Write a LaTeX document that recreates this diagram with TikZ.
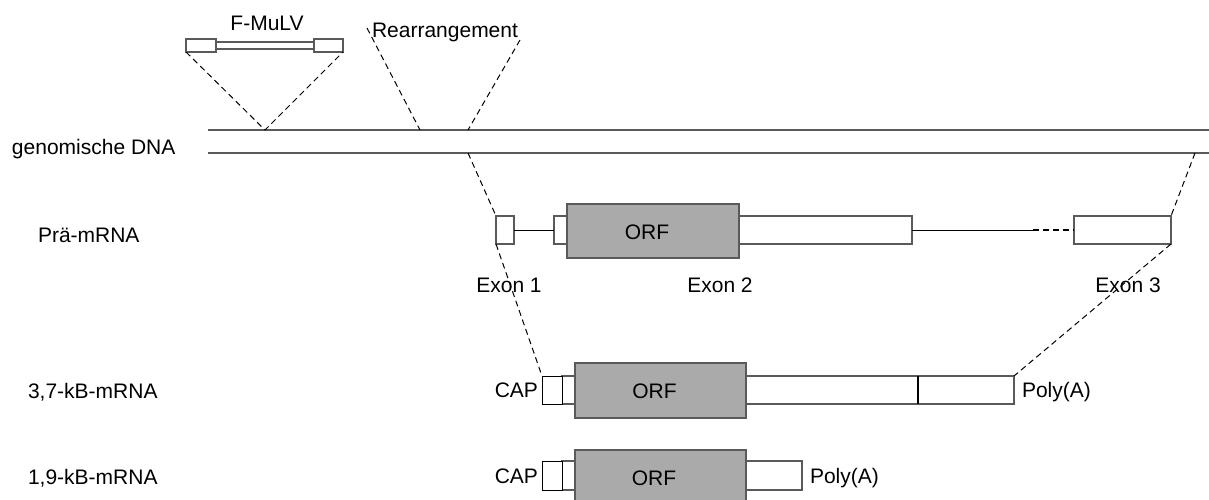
\documentclass[tikz,border=0pt]{standalone}
\usepackage{fontspec}
\setmainfont{Liberation Sans}
\definecolor{linec}{RGB}{90,90,90}
\definecolor{orfc}{RGB}{170,170,170}
\begin{document}
\begin{tikzpicture}[x=1pt,y=-1pt,
  every node/.style={font=\fontsize{21}{25}\selectfont},
  bx/.style={draw=linec, line width=1.2pt, fill=white, inner sep=0pt, outer sep=0pt, anchor=north west},
  capbx/.style={bx, draw=black, line width=1pt},
  orf/.style={bx, fill=orfc},
  dsh/.style={draw=black, line width=1pt, dash pattern=on 6pt off 4pt},
  ln/.style={draw=linec, line width=1.2pt},
  lbl/.style={inner sep=0pt, outer sep=0pt}]
\useasboundingbox (0,0) rectangle (1209,499);

% ---- F-MuLV
\node[bx, minimum width=30pt, minimum height=13pt] (fl) at (186,39) {};
\node[bx, minimum width=98pt, minimum height=7pt] (fm) at (216,42) {};
\node[bx, minimum width=29pt, minimum height=13pt] (fr) at (314,39) {};
\node[lbl, anchor=base] (tf) at (267,30) {F-MuLV};

% ---- Rearrangement
\node[lbl, anchor=base] (tr) at (445,37) {Rearrangement};
\coordinate (r1) at (367,28);
\coordinate (r2) at (420,130);
\coordinate (r3) at (520,40);
\coordinate (r4) at (468,130);

% ---- genomic DNA
\coordinate (g1) at (208,130);
\coordinate (g2) at (1209,130);
\coordinate (g3) at (208,153);
\coordinate (g4) at (1209,153);
\coordinate (ins) at (265,130);
\coordinate (g5) at (468,153);
\coordinate (g6) at (1195,153);
\draw[ln] (g1) -- (g2);
\draw[ln] (g3) -- (g4);
\node[lbl, anchor=base west] (tg) at (12,154) {genomische DNA};

% ---- Pre-mRNA
\node[lbl, anchor=base west] (tp) at (38,242) {Prä-mRNA};
\node[bx, minimum width=18pt, minimum height=28pt] (ex1) at (496,216) {};
\node[bx, minimum width=358pt, minimum height=28pt] (u1) at (554,216) {};
\node[orf, minimum width=172pt, minimum height=54pt] (orf1) at (567,204) {};
\node[lbl] (to1) at ([xshift=-6pt,yshift=-1pt]orf1.center) {ORF};
\node[bx, minimum width=97pt, minimum height=28pt] (ex3) at (1074,216) {};
\coordinate (intr) at (1033,230);
\draw[black, line width=1pt] (ex1.east) -- (u1.west);
\draw[black, line width=1pt] (u1.east) -- (intr);
\draw[black, line width=1.6pt, dash pattern=on 6pt off 4pt] (intr) -- (ex3.west);
\node[lbl, anchor=base] (te1) at (509,292) {Exon 1};
\node[lbl, anchor=base] (te2) at (720,292) {Exon 2};
\node[lbl, anchor=base] (te3) at (1128,292) {Exon 3};

% ---- 3,7-kB-mRNA
\node[lbl, anchor=base west] (t37) at (28,398) {3,7-kB-mRNA};
\node[bx, minimum width=452pt, minimum height=28pt] (w37) at (562,376) {};
\node[capbx, minimum width=20pt, minimum height=28pt] (cap37) at (542,376) {};
\node[orf, minimum width=171pt, minimum height=55pt] (orf37) at (575,363) {};
\node[lbl] (to37) at ([xshift=-6pt,yshift=-1pt]orf37.center) {ORF};
\draw[black, line width=1.6pt] ([xshift=356pt]w37.north west) -- ([xshift=356pt]w37.south west);
\node[lbl, anchor=base east] (tc37) at (538,397) {CAP};
\node[lbl, anchor=base west] (tpa37) at (1022,397) {Poly(A)};

% ---- 1,9-kB-mRNA
\node[lbl, anchor=base west] (t19) at (28,484) {1,9-kB-mRNA};
\node[bx, minimum width=240pt, minimum height=29pt] (w19) at (562,461) {};
\node[capbx, minimum width=20pt, minimum height=29pt] (cap19) at (542,461) {};
\node[orf, minimum width=171pt, minimum height=55pt] (orf19) at (575,450) {};
\node[lbl, anchor=base] (to19) at (654,485) {ORF};
\node[lbl, anchor=base east] (tc19) at (538,483) {CAP};
\node[lbl, anchor=base west] (tpa19) at (810,483) {Poly(A)};

% ---- dashed connectors
\draw[dsh] (fl.south west) -- (ins) -- (fr.south east);
\draw[dsh] (r1) -- (r2);
\draw[dsh] (r3) -- (r4);
\draw[dsh] (g5) -- (ex1.north west);
\draw[dsh] (ex1.south west) -- (cap37.north west);
\draw[dsh] (g6) -- (ex3.north east);
\draw[dsh] (ex3.south east) -- (w37.north east);
\end{tikzpicture}
\end{document}
